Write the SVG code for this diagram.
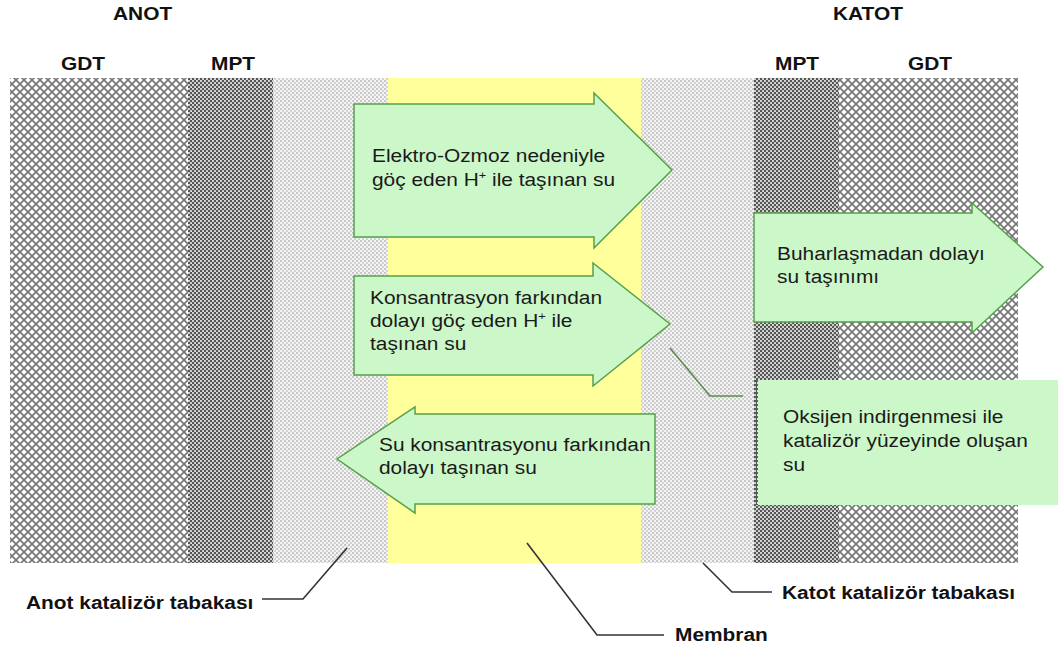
<svg xmlns="http://www.w3.org/2000/svg" width="1058" height="650" viewBox="0 0 1058 650">
<style>
.t{font-family:"Liberation Sans",Arial,sans-serif;font-size:18px;fill:#1a1a1a}
.b{font-weight:bold;fill:#111}
.sup{font-size:11px}
.arrow{fill:#ccf7c8;stroke:#55a04a;stroke-width:1.5;stroke-linejoin:miter}
.lead{fill:none;stroke:#333;stroke-width:1.6}
.glead{fill:none;stroke:#5d8c4f;stroke-width:1.6}
</style>
<defs>
<pattern id="gdt" width="8" height="8" patternUnits="userSpaceOnUse">
<rect width="8" height="8" fill="#fff"/>
<path d="M0,0 L8,8 M8,0 L0,8" stroke="#777" stroke-width="1.7"/>
</pattern>
<pattern id="mpt" width="4" height="4" patternUnits="userSpaceOnUse">
<rect width="4" height="4" fill="#555"/>
<circle cx="1" cy="1" r="1.05" fill="#e4e4e4"/>
<circle cx="3" cy="3" r="1.05" fill="#e4e4e4"/>
</pattern>
<pattern id="cat" width="4" height="4" patternUnits="userSpaceOnUse">
<rect width="4" height="4" fill="#f4f4f4"/>
<circle cx="1" cy="1" r="0.8" fill="#8e8e8e"/>
<circle cx="3" cy="3" r="0.8" fill="#a8a8a8"/>
</pattern>
</defs>
<rect width="1058" height="650" fill="#fff"/>

<g id="layers">
<rect id="anot-gdt" x="10" y="78" width="178" height="485" fill="url(#gdt)"/>
<rect id="anot-mpt" x="188" y="78" width="85" height="485" fill="url(#mpt)"/>
<rect id="anot-cat" x="273" y="78" width="115" height="485" fill="url(#cat)"/>
<rect id="membran" x="388" y="78" width="253" height="485" fill="#ffff9c"/>
<rect id="katot-cat" x="641" y="78" width="113" height="485" fill="url(#cat)"/>
<rect id="katot-mpt" x="754" y="78" width="85" height="485" fill="url(#mpt)"/>
<rect id="katot-gdt" x="839" y="78" width="179" height="485" fill="url(#gdt)"/>
</g>

<g id="headers">
<text class="t b" transform="translate(113 20) scale(1.16 1)">ANOT</text>
<text class="t b" transform="translate(833 20) scale(1.16 1)">KATOT</text>
<text class="t b" transform="translate(61 70) scale(1.16 1)">GDT</text>
<text class="t b" transform="translate(211 70) scale(1.16 1)">MPT</text>
<text class="t b" transform="translate(775 70) scale(1.16 1)">MPT</text>
<text class="t b" transform="translate(908 70) scale(1.16 1)">GDT</text>
</g>

<g id="connectors">
<polyline class="glead" points="670,348 710,396 743,396"/>
<polyline class="lead" points="262,599 303,599 347,548"/>
<polyline class="lead" points="703,563 732,592 772,592"/>
<polyline class="lead" points="527,543 597,635 664,635"/>
</g>

<g id="arrow-elektro">
<polygon class="arrow" points="354,104 594,104 594,93 672,170 594,248 594,237 354,237"/>
<text class="t" transform="translate(372 162) scale(1.16 1)">Elektro-Ozmoz nedeniyle</text>
<text class="t" transform="translate(372 186) scale(1.16 1)">göç eden H<tspan class="sup" dy="-7">+</tspan><tspan dy="7"> ile taşınan su</tspan></text>
</g>

<g id="arrow-konsantrasyon">
<polygon class="arrow" points="354,276 593,276 593,263 670,324 593,386 593,375 354,375"/>
<text class="t" transform="translate(370 304) scale(1.16 1)">Konsantrasyon farkından</text>
<text class="t" transform="translate(370 327) scale(1.16 1)">dolayı göç eden H<tspan class="sup" dy="-7">+</tspan><tspan dy="7"> ile</tspan></text>
<text class="t" transform="translate(370 350) scale(1.16 1)">taşınan su</text>
</g>

<g id="arrow-su">
<polygon class="arrow" points="655,414 415,414 415,407 337,459 415,513 415,504 655,504"/>
<text class="t" transform="translate(379 451) scale(1.16 1)">Su konsantrasyonu farkından</text>
<text class="t" transform="translate(379 474) scale(1.16 1)">dolayı taşınan su</text>
</g>

<g id="arrow-buhar">
<polygon class="arrow" points="754,213 972,213 972,203 1043,267 972,333 972,322 754,322"/>
<text class="t" transform="translate(777 260) scale(1.16 1)">Buharlaşmadan dolayı</text>
<text class="t" transform="translate(777 283) scale(1.16 1)">su taşınımı</text>
</g>

<g id="box-oksijen">
<rect x="757" y="380" width="301" height="125" fill="#ccf7c8"/>
<line x1="757" y1="380" x2="757" y2="505" stroke="#333" stroke-width="1.5" stroke-dasharray="2,2"/>
<text class="t" transform="translate(783 423) scale(1.16 1)">Oksijen indirgenmesi ile</text>
<text class="t" transform="translate(783 447) scale(1.16 1)">katalizör yüzeyinde oluşan</text>
<text class="t" transform="translate(783 471) scale(1.16 1)">su</text>
</g>

<g id="labels">
<text class="t b" transform="translate(26 609) scale(1.16 1)">Anot katalizör tabakası</text>
<text class="t b" transform="translate(782 599) scale(1.16 1)">Katot katalizör tabakası</text>
<text class="t b" transform="translate(675 641) scale(1.16 1)">Membran</text>
</g>
</svg>
